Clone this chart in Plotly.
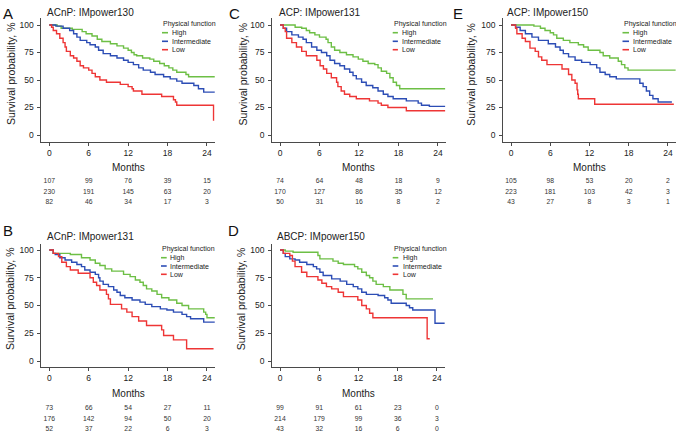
import plotly.graph_objects as go

W, H = 676, 437
FONT = "Liberation Sans, Arial, sans-serif"
GREEN, BLUE, RED = "#6DBF45", "#2C4DB5", "#EE3535"
AXC = "#4a4a4a"

TIME_TICKS = [0, 6, 12, 18, 24]
SURV_TICKS = [0, 25, 50, 75, 100]
GROUPS = ["High", "Intermediate", "Low"]

# ---------------- Panel A: ACnP IMpower130 ----------------
A_title = "ACnP: IMpower130"
A_high_t = [0, 1.2, 1.8, 3.5, 5.0, 5.6, 6.5, 7.3, 8.0, 9.3, 10.3, 11.3, 12.0, 12.5, 12.9, 13.3, 14.2, 15.3, 15.9, 16.8, 17.5, 18.2, 18.8, 19.4, 20.8, 21.2, 25.2]
A_high_s = [100, 99, 97, 96, 94, 92, 90, 87, 85, 83, 81, 79, 77, 75, 73, 72, 70, 69, 67, 65, 63, 61, 59, 57, 55, 53, 53]
A_int_t = [0, 1.0, 2.1, 3.1, 3.7, 4.2, 4.7, 5.7, 6.2, 7.0, 7.5, 8.2, 9.3, 10.3, 11.3, 12.0, 12.8, 13.6, 14.3, 15.4, 16.1, 17.4, 18.4, 19.4, 20.2, 22.0, 22.7, 23.5, 25.2]
A_int_s = [100, 99, 97, 95, 92, 89, 86, 84, 82, 80, 77, 74, 72, 70, 68, 66, 64, 61, 59, 57, 55, 53, 51, 49, 47, 45, 42, 39, 39]
A_low_t = [0, 0.35, 0.6, 1.1, 1.6, 2.1, 2.4, 2.6, 3.2, 3.7, 4.2, 4.7, 5.2, 6.0, 6.5, 7.0, 7.7, 8.7, 10.8, 12.0, 12.6, 12.8, 14.1, 17.1, 18.9, 19.2, 19.4, 25.0, 25.0]
A_low_s = [100, 98, 95, 92, 88, 84, 80, 76, 72, 70, 67, 63, 61, 59, 56, 53, 50, 48, 46, 44, 42, 40, 37, 35, 32, 30, 27, 27, 13]
A_risk_high = [107, 99, 76, 39, 15]
A_risk_int = [230, 191, 145, 63, 20]
A_risk_low = [82, 46, 34, 17, 3]

# ---------------- Panel B: ACnP IMpower131 ----------------
B_title = "ACnP: IMpower131"
B_high_t = [0, 0.6, 3.2, 4.9, 6.2, 7.0, 7.7, 8.5, 9.5, 11.3, 12.3, 13.1, 13.8, 14.3, 14.8, 15.6, 16.4, 17.1, 18.2, 19.4, 20.2, 21.2, 23.5, 23.8, 24.0, 25.2]
B_high_s = [100, 97, 96, 93, 91, 88, 86, 83, 81, 78, 76, 73, 71, 68, 65, 63, 60, 57, 55, 52, 50, 47, 44, 42, 39, 39]
B_int_t = [0, 0.6, 0.9, 1.6, 2.4, 3.4, 4.2, 4.9, 5.4, 6.2, 7.0, 7.5, 7.7, 8.2, 9.0, 9.8, 10.3, 10.8, 11.5, 12.6, 13.8, 14.6, 15.6, 16.9, 17.9, 18.9, 20.2, 20.9, 21.5, 23.5, 25.2]
B_int_s = [100, 97, 96, 93, 91, 89, 87, 85, 82, 80, 78, 75, 72, 69, 67, 64, 62, 59, 57, 55, 53, 51, 49, 47, 46, 44, 42, 40, 38, 35, 35]
B_low_t = [0, 0.6, 1.4, 1.9, 2.6, 3.2, 4.4, 6.2, 6.7, 7.2, 7.7, 8.7, 9.0, 9.3, 11.0, 11.8, 12.6, 13.6, 14.8, 17.1, 17.4, 18.9, 20.9, 25.0]
B_low_s = [100, 97, 94, 89, 85, 82, 79, 75, 71, 68, 64, 60, 56, 51, 47, 44, 40, 36, 32, 28, 23, 19, 11, 11]
B_risk_high = [73, 66, 54, 27, 11]
B_risk_int = [176, 142, 94, 50, 20]
B_risk_low = [52, 37, 22, 6, 3]

# ---------------- Panel C: ACP IMpower131 ----------------
C_title = "ACP: IMpower131"
C_high_t = [0, 2.3, 3.3, 4.0, 4.5, 5.3, 6.0, 7.0, 7.3, 7.8, 8.3, 9.1, 10.1, 11.1, 11.9, 12.6, 13.4, 14.4, 14.9, 15.4, 16.2, 16.7, 17.2, 17.7, 18.2, 25.1]
C_high_s = [100, 98, 97, 95, 93, 91, 89, 87, 84, 80, 77, 75, 73, 71, 69, 67, 65, 64, 61, 58, 56, 52, 48, 45, 42, 42]
C_int_t = [0, 0.5, 1.0, 1.8, 2.8, 3.5, 4.0, 4.8, 5.6, 6.3, 7.1, 7.6, 8.3, 9.1, 9.8, 10.6, 11.1, 11.6, 12.4, 13.1, 14.1, 14.9, 15.7, 16.4, 17.2, 19.2, 21.0, 21.5, 22.7, 25.1]
C_int_s = [100, 97, 94, 91, 89, 87, 84, 80, 77, 75, 72, 68, 65, 63, 60, 57, 54, 51, 48, 45, 43, 40, 37, 35, 33, 31, 29, 27, 26, 26]
C_low_t = [0, 0.5, 0.8, 1.0, 1.8, 2.5, 3.3, 4.0, 5.6, 6.1, 6.6, 7.1, 7.8, 8.6, 8.8, 9.3, 9.8, 10.6, 11.6, 13.6, 14.9, 15.4, 16.4, 19.2, 25.1]
C_low_s = [100, 97, 94, 88, 84, 80, 76, 72, 68, 63, 60, 56, 52, 48, 44, 40, 37, 35, 33, 31, 29, 27, 25, 22, 22]
C_risk_high = [74, 64, 48, 18, 9]
C_risk_int = [170, 127, 86, 35, 12]
C_risk_low = [50, 31, 16, 8, 2]

# ---------------- Panel D: ABCP IMpower150 ----------------
D_title = "ABCP: IMpower150"
D_high_t = [0, 0.8, 2.0, 5.8, 6.1, 8.1, 8.9, 9.7, 11.4, 11.9, 12.5, 13.2, 13.7, 14.2, 14.7, 15.8, 16.8, 18.8, 19.3, 23.4]
D_high_s = [100, 99, 98, 95, 92, 90, 88, 87, 85, 83, 80, 77, 75, 72, 69, 67, 64, 60, 56, 56]
D_int_t = [0, 0.5, 0.8, 1.5, 2.3, 3.0, 4.1, 5.1, 5.6, 6.1, 6.6, 7.9, 9.2, 10.2, 11.2, 11.9, 12.5, 13.2, 15.0, 16.0, 16.5, 17.0, 19.3, 19.8, 20.3, 23.7, 25.2]
D_int_s = [100, 97, 94, 92, 91, 89, 87, 85, 83, 80, 77, 74, 72, 69, 67, 65, 62, 60, 59, 57, 55, 52, 50, 48, 46, 34, 34]
D_low_t = [0, 0.5, 1.5, 1.9, 2.3, 3.3, 4.1, 5.8, 6.4, 7.1, 7.9, 8.9, 9.7, 11.9, 12.5, 13.2, 13.7, 14.2, 22.5, 22.9]
D_low_s = [100, 97, 95, 90, 85, 80, 76, 73, 70, 67, 65, 62, 58, 55, 50, 47, 43, 39, 20, 20]
D_risk_high = [99, 91, 61, 23, 0]
D_risk_int = [214, 179, 99, 36, 3]
D_risk_low = [43, 32, 16, 6, 0]

# ---------------- Panel E: ACP IMpower150 ----------------
E_title = "ACP: IMpower150"
E_high_t = [0, 3.5, 4.5, 5.2, 6.0, 6.5, 7.0, 8.0, 9.0, 10.3, 11.1, 11.8, 13.6, 14.1, 15.1, 16.4, 16.9, 17.4, 17.9, 25.2]
E_high_s = [100, 99, 97, 95, 93, 91, 88, 86, 84, 82, 80, 77, 75, 72, 70, 67, 64, 61, 59, 59]
E_int_t = [0, 0.7, 1.4, 2.2, 3.2, 4.2, 5.7, 6.8, 7.5, 8.0, 8.8, 9.8, 10.8, 12.1, 13.1, 13.6, 14.4, 15.1, 16.1, 19.7, 20.2, 20.7, 21.2, 21.7, 22.5, 24.6]
E_int_s = [100, 98, 95, 92, 89, 86, 83, 80, 77, 74, 71, 68, 66, 64, 61, 57, 55, 53, 51, 47, 44, 40, 36, 33, 30, 30]
E_low_t = [0, 0.7, 0.9, 1.7, 2.2, 2.9, 3.7, 4.2, 4.7, 5.5, 7.8, 8.8, 9.3, 9.8, 10.1, 10.2, 10.3, 12.8, 24.9]
E_low_s = [100, 97, 92, 88, 85, 79, 76, 71, 68, 64, 60, 55, 50, 47, 41, 37, 33, 28, 28]
E_risk_high = [105, 98, 53, 20, 2]
E_risk_int = [223, 181, 103, 42, 3]
E_risk_low = [43, 27, 8, 3, 1]

PANELS = {
    "A": dict(title=A_title, curves=[(A_high_t, A_high_s), (A_int_t, A_int_s), (A_low_t, A_low_s)],
              risk=[A_risk_high, A_risk_int, A_risk_low]),
    "B": dict(title=B_title, curves=[(B_high_t, B_high_s), (B_int_t, B_int_s), (B_low_t, B_low_s)],
              risk=[B_risk_high, B_risk_int, B_risk_low]),
    "C": dict(title=C_title, curves=[(C_high_t, C_high_s), (C_int_t, C_int_s), (C_low_t, C_low_s)],
              risk=[C_risk_high, C_risk_int, C_risk_low]),
    "D": dict(title=D_title, curves=[(D_high_t, D_high_s), (D_int_t, D_int_s), (D_low_t, D_low_s)],
              risk=[D_risk_high, D_risk_int, D_risk_low]),
    "E": dict(title=E_title, curves=[(E_high_t, E_high_s), (E_int_t, E_int_s), (E_low_t, E_low_s)],
              risk=[E_risk_high, E_risk_int, E_risk_low]),
}

COLORS = [GREEN, BLUE, RED]
XR = [-1.2, 25.2]

# pixel geometry of each panel (layout only)
GEOM = {
    "A": dict(x0=49.3, sx=6.57, y100=25.0, y0=135.0, yr=[-6, 106], risk=(181.7, 202.1),
              letter=(8, 13), title=(45, 12.7), ytitle=(11, 74), months=167.3,
              leg=(160.7, 24.3, 162, 168, 170, [32.7, 41.3, 49.7])),
    "C": dict(x0=280.0, sx=6.58, y100=25.0, y0=135.0, yr=[-6, 106], risk=(181.7, 202.1),
              letter=(234.5, 13), title=(276.7, 12.7), ytitle=(242.5, 74), months=167.3,
              leg=(391.7, 24.3, 392.7, 397.9, 400, [32.7, 41.3, 49.7])),
    "E": dict(x0=511.0, sx=6.54, y100=25.0, y0=135.0, yr=[-6, 106], risk=(181.7, 202.1),
              letter=(457.5, 13), title=(505, 12.7), ytitle=(470.7, 74), months=167.3,
              leg=(621.7, 24.3, 622.5, 629, 631, [32.7, 41.3, 49.7])),
    "B": dict(x0=49.3, sx=6.57, y100=250.0, y0=361.0, yr=[-5, 105], risk=(408.3, 429.3),
              letter=(8, 230), title=(45, 236.7), ytitle=(10, 299), months=393.3,
              leg=(160, 249.3, 161, 166.7, 168, [257.7, 266, 274.3])),
    "D": dict(x0=280.0, sx=6.54, y100=250.0, y0=361.0, yr=[-5, 105], risk=(408.3, 429.3),
              letter=(233, 230), title=(275, 236.7), ytitle=(241.3, 299), months=393.3,
              leg=(391.7, 249.3, 392.7, 398.3, 400.7, [257.7, 266, 274.3])),
}


def fx(px):
    return min(max(px / W, 0.0), 1.0)


def fy(py):
    return min(max(1 - py / H, 0.0), 1.0)


fig = go.Figure()
layout = dict(width=W, height=H, margin=dict(l=0, r=0, t=0, b=0),
              paper_bgcolor="white", plot_bgcolor="white", showlegend=False,
              font=dict(family=FONT, color="#222"))
annotations, shapes = [], []

for i, key in enumerate(["A", "B", "C", "D", "E"]):
    p, g = PANELS[key], GEOM[key]
    mi, ri = 2 * i + 1, 2 * i + 2
    xl = g["x0"] + XR[0] * g["sx"]
    xr = g["x0"] + XR[1] * g["sx"]
    sy = (g["y0"] - g["y100"]) / 100.0
    ytop = g["y100"] - (g["yr"][1] - 100) * sy
    ybot = g["y0"] - g["yr"][0] * sy
    axis_common = dict(showgrid=False, zeroline=False, showline=True, linecolor=AXC, linewidth=1,
                       ticks="outside", ticklen=3, tickcolor=AXC, tickwidth=1,
                       tickfont=dict(size=8.5, color="#222", family=FONT))
    layout[f"xaxis{mi}"] = dict(domain=[fx(xl), fx(xr)], range=XR, anchor=f"y{mi}",
                                tickvals=TIME_TICKS, **axis_common)
    layout[f"yaxis{mi}"] = dict(domain=[fy(ybot), fy(ytop)], range=g["yr"], anchor=f"x{mi}",
                                tickvals=SURV_TICKS, ticklabelstandoff=2, **axis_common)
    r3, r1 = g["risk"]
    sr = (r1 - r3) / 2.0
    layout[f"xaxis{ri}"] = dict(domain=[fx(xl), fx(xr)], range=XR, anchor=f"y{ri}", visible=False)
    layout[f"yaxis{ri}"] = dict(domain=[fy(r1 + 0.5 * sr), fy(r3 - 0.5 * sr)], range=[0.5, 3.5],
                                anchor=f"x{ri}", visible=False)

    for (t, s), col, name in zip(p["curves"], COLORS, GROUPS):
        fig.add_trace(go.Scatter(x=t, y=s, mode="lines", line=dict(color=col, width=1.4, shape="hv"),
                                 name=name, xaxis=f"x{mi}", yaxis=f"y{mi}", cliponaxis=True,
                                 hoverinfo="skip"))
    for row, (vals, col) in enumerate(zip(p["risk"], COLORS)):
        yrow = 3 - row
        fig.add_trace(go.Scatter(x=TIME_TICKS, y=[yrow] * len(TIME_TICKS), mode="text",
                                 text=[str(v) for v in vals],
                                 textfont=dict(size=6.8, color="#333", family=FONT),
                                 xaxis=f"x{ri}", yaxis=f"y{ri}", cliponaxis=False, hoverinfo="skip"))
        fig.add_trace(go.Scatter(x=[-2.3], y=[yrow], mode="markers",
                                 marker=dict(symbol="line-ew", size=6, line=dict(color=col, width=2.6)),
                                 xaxis=f"x{ri}", yaxis=f"y{ri}", cliponaxis=False, hoverinfo="skip"))

    # texts
    lx, ly = g["letter"]
    annotations.append(dict(text=key, x=fx(lx), y=fy(ly), xref="paper", yref="paper",
                            xanchor="center", yanchor="middle", showarrow=False,
                            font=dict(size=15, color="#111", family=FONT)))
    tx, ty = g["title"]
    annotations.append(dict(text=p["title"], x=fx(tx), y=fy(ty), xref="paper", yref="paper",
                            xanchor="left", yanchor="middle", showarrow=False,
                            font=dict(size=10, color="#222", family=FONT)))
    yx, yy = g["ytitle"]
    annotations.append(dict(text="Survival probability, %", x=fx(yx), y=fy(yy), xref="paper",
                            yref="paper", xanchor="center", yanchor="middle", textangle=-90,
                            showarrow=False, font=dict(size=10.5, color="#222", family=FONT)))
    annotations.append(dict(text="Months", x=12, y=fy(g["months"]), xref=f"x{mi}", yref="paper",
                            xanchor="center", yanchor="middle", showarrow=False,
                            font=dict(size=10, color="#222", family=FONT)))
    gx, gy, lx0, lx1, labx, rows = g["leg"]
    annotations.append(dict(text="Physical function", x=fx(gx), y=fy(gy), xref="paper", yref="paper",
                            xanchor="left", yanchor="middle", showarrow=False,
                            font=dict(size=7, color="#222", family=FONT)))
    for name, col, ry in zip(GROUPS, COLORS, rows):
        shapes.append(dict(type="line", xref="paper", yref="paper", x0=fx(lx0), x1=fx(lx1),
                           y0=fy(ry), y1=fy(ry), line=dict(color=col, width=1.6)))
        annotations.append(dict(text=name, x=fx(labx), y=fy(ry), xref="paper", yref="paper",
                                xanchor="left", yanchor="middle", showarrow=False,
                                font=dict(size=7, color="#222", family=FONT)))

layout["annotations"] = annotations
layout["shapes"] = shapes
fig.update_layout(**layout)
fig.write_html("out.html", config={"displayModeBar": False, "staticPlot": True},
               post_script="document.body.style.margin='0px';")
